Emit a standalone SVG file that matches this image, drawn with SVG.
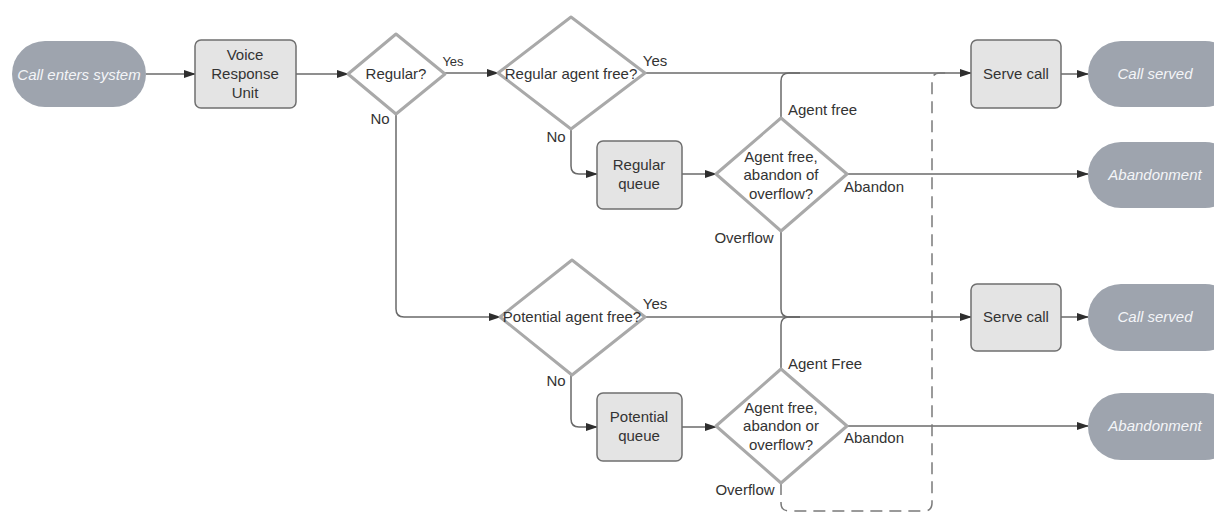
<svg xmlns="http://www.w3.org/2000/svg" width="1214" height="513" viewBox="0 0 1214 513">
<style>
text{font-family:"Liberation Sans",Arial,sans-serif;font-size:15px;fill:#333;text-anchor:middle;dominant-baseline:central}
.pill{fill:#9ea4ae}
.pt{fill:#f4f5f8;font-style:italic}
.box{fill:#e4e4e4;stroke:#6f6f6f;stroke-width:1.5}
.dia{fill:#fff;stroke:#a9a9a9;stroke-width:3;stroke-linejoin:round}
.c{fill:none;stroke:#6a6a6a;stroke-width:1.5}
.a{marker-end:url(#ah)}
.d{stroke-dasharray:12,7;stroke:#7a7a7a}
.lbl{text-anchor:start}
</style>
<defs>
<marker id="ah" markerWidth="12" markerHeight="10" refX="11" refY="5" orient="auto" markerUnits="userSpaceOnUse">
<path d="M0,1 L12,5 L0,9 Z" fill="#2e2e2e"/>
</marker>
</defs>
<g id="connectors">
<path class="c a" d="M146,74 H195"/>
<path class="c a" d="M296,74 H348"/>
<path class="c a" d="M445,73 H498"/>
<path class="c a" d="M645,73 H971"/>
<path class="c" d="M781,118 V81 Q781,73 789,73 H800"/>
<path class="c a" d="M571,129 V166 Q571,174 579,174 H597"/>
<path class="c a" d="M682,174 H716"/>
<path class="c a" d="M847,174 H1088"/>
<path class="c a" d="M1061,74 H1088"/>
<path class="c a" d="M396,114 V309 Q396,317 404,317 H500"/>
<path class="c a" d="M645,317 H971"/>
<path class="c" d="M781,231 V309 Q781,317 789,317 H800"/>
<path class="c" d="M781,369 V325 Q781,317 789,317 H800"/>
<path class="c a" d="M571,375 V419 Q571,427 579,427 H597"/>
<path class="c a" d="M682,427 H716"/>
<path class="c a" d="M847,426 H1088"/>
<path class="c a" d="M1061,317 H1088"/>
<path class="c d" d="M781,483 V503 Q781,511 789,511 H924 Q932,511 932,503 V81 Q932,73 940,73 H950"/>
</g>
<g id="n-enter"><rect class="pill" x="12" y="41" width="134" height="66" rx="33"/><text class="pt" x="79" y="74">Call enters system</text></g>
<g id="n-vru"><rect class="box" x="195" y="40" width="101" height="68" rx="6"/><text x="245" y="54">Voice</text><text x="245" y="73">Response</text><text x="245" y="92">Unit</text></g>
<g id="n-regular"><path class="dia" d="M396,34 L445,74 L396,114 L348,74 Z"/><text x="396" y="73">Regular?</text></g>
<g id="n-regfree"><path class="dia" d="M571,17 L645,73 L571,129 L498,73 Z"/><text x="571" y="73">Regular agent free?</text></g>
<g id="n-regqueue"><rect class="box" x="597" y="141" width="85" height="68" rx="6"/><text x="639" y="164">Regular</text><text x="639" y="183">queue</text></g>
<g id="n-regdec"><path class="dia" d="M781,118 L847,174 L781,231 L716,174 Z"/><text x="781" y="156">Agent free,</text><text x="781" y="174">abandon of</text><text x="781" y="193">overflow?</text></g>
<g id="n-serve1"><rect class="box" x="971" y="40" width="90" height="68" rx="6"/><text x="1016" y="73">Serve call</text></g>
<g id="n-served1"><rect class="pill" x="1088" y="41" width="150" height="66" rx="33"/><text class="pt" x="1155" y="73">Call served</text></g>
<g id="n-aband1"><rect class="pill" x="1088" y="142" width="150" height="66" rx="33"/><text class="pt" x="1155" y="174">Abandonment</text></g>
<g id="n-potfree"><path class="dia" d="M572,260 L645,317 L572,375 L500,317 Z"/><text x="572" y="316">Potential agent free?</text></g>
<g id="n-potqueue"><rect class="box" x="597" y="393" width="85" height="68" rx="6"/><text x="639" y="416">Potential</text><text x="639" y="435">queue</text></g>
<g id="n-potdec"><path class="dia" d="M781,369 L847,426 L781,483 L716,426 Z"/><text x="781" y="407">Agent free,</text><text x="781" y="425">abandon or</text><text x="781" y="444">overflow?</text></g>
<g id="n-serve2"><rect class="box" x="971" y="284" width="90" height="67" rx="6"/><text x="1016" y="316">Serve call</text></g>
<g id="n-served2"><rect class="pill" x="1088" y="284" width="150" height="67" rx="33"/><text class="pt" x="1155" y="316">Call served</text></g>
<g id="n-aband2"><rect class="pill" x="1088" y="393" width="150" height="67" rx="33"/><text class="pt" x="1155" y="425">Abandonment</text></g>
<g id="labels">
<text x="453" y="61" style="font-size:13px">Yes</text>
<text x="380" y="118">No</text>
<text x="655" y="60">Yes</text>
<text x="556" y="136">No</text>
<text class="lbl" x="788" y="109">Agent free</text>
<text class="lbl" x="844" y="186">Abandon</text>
<text x="744" y="237">Overflow</text>
<text x="655" y="303">Yes</text>
<text x="556" y="380">No</text>
<text class="lbl" x="788" y="363">Agent Free</text>
<text class="lbl" x="844" y="437">Abandon</text>
<text x="745" y="489">Overflow</text>
</g>
</svg>
